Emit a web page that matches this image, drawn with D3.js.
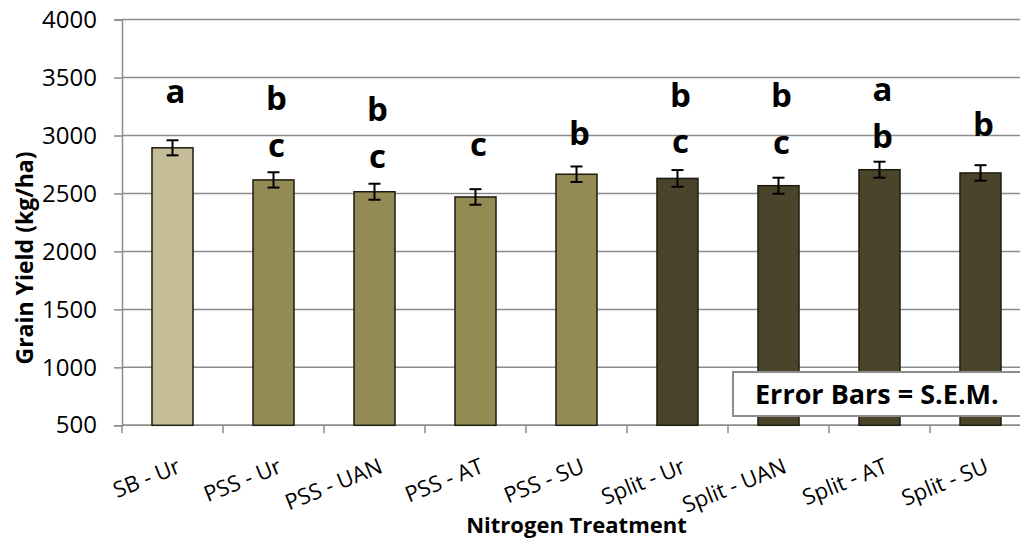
<!DOCTYPE html>
<html lang="en">
<head>
  <meta charset="UTF-8">
  <title>Grain Yield by Nitrogen Treatment</title>
  <script src="https://d3js.org/d3.v7.min.js"></script>
  <style>
    body { margin: 0; background: #fff; }
    svg { display: block; font-family: 'Open Sans', sans-serif; }
    .tick text { fill: #000; }
  </style>
</head>
<body>
  <svg width="1020" height="539"></svg>
  <script>
    const treatments = ["SB - Ur", "PSS - Ur", "PSS - UAN", "PSS - AT", "PSS - SU",
                        "Split - Ur", "Split - UAN", "Split - AT", "Split - SU"];
    const groups = ["SB", "PSS", "PSS", "PSS", "PSS", "Split", "Split", "Split", "Split"];
    const yieldValues = [2894, 2617, 2515, 2470, 2666, 2630, 2567, 2705, 2677];
    const semValues = [65, 66, 69, 67, 67, 72, 69, 69, 67];
    // significance letters, top line first
    const letters = [["a"], ["b", "c"], ["b", "c"], ["c"], ["b"], ["b", "c"], ["b", "c"], ["a", "b"], ["b"]];
    // kg/ha level of the lowest letter's baseline
    const letterLevel = [3278, 2815, 2720, 2824, 2919, 2847, 2841, 2893, 2997];
    const yTicks = [500, 1000, 1500, 2000, 2500, 3000, 3500, 4000];

    const svg = d3.select("svg");
    const plotLeft = 122, plotRight = 1031, plotTop = 19.6, plotBottom = 425.3;

    const x = d3.scaleBand().domain(treatments).range([plotLeft, plotRight]).padding(0);
    const y = d3.scaleLinear().domain([500, 4000]).range([plotBottom, plotTop]);
    const color = d3.scaleOrdinal().domain(["SB", "PSS", "Split"]).range(["#c4bd97", "#948a54", "#4a452a"]);

    const gridColor = "#8c8c8c";

    // gridlines
    svg.append("g")
      .selectAll("line")
      .data(yTicks)
      .join("line")
        .attr("x1", plotLeft).attr("x2", plotRight)
        .attr("y1", d => y(d)).attr("y2", d => y(d))
        .attr("stroke", gridColor).attr("stroke-width", 1.5);

    // y axis
    const yAxis = svg.append("g")
      .attr("transform", `translate(${plotLeft},0)`)
      .call(d3.axisLeft(y).tickValues(yTicks).tickSize(8).tickPadding(17).tickFormat(d3.format("d")));
    yAxis.select(".domain").attr("stroke", gridColor).attr("stroke-width", 1.5);
    yAxis.selectAll(".tick line").attr("stroke", gridColor).attr("stroke-width", 1.5);
    yAxis.selectAll(".tick text").attr("font-size", 24).attr("font-family", "'Open Sans', sans-serif");

    // x axis: ticks between categories
    const xAxis = svg.append("g").attr("transform", `translate(0,${plotBottom})`);
    xAxis.append("line")
      .attr("x1", plotLeft).attr("x2", plotRight)
      .attr("stroke", gridColor).attr("stroke-width", 1.5);
    xAxis.selectAll(".xtick")
      .data(treatments)
      .join("line")
        .attr("class", "xtick")
        .attr("x1", d => x(d)).attr("x2", d => x(d))
        .attr("y1", 0).attr("y2", 8)
        .attr("stroke", gridColor).attr("stroke-width", 1.5);
    xAxis.selectAll(".xlabel")
      .data(treatments)
      .join("text")
        .attr("class", "xlabel")
        .attr("transform", d => `translate(${x(d) + x.bandwidth() / 2 + 3},31) rotate(-22)`)
        .attr("dy", 17)
        .attr("text-anchor", "end")
        .attr("font-size", 22)
        .text(d => d);

    // bars
    const barW = x.bandwidth() * 0.406;
    svg.append("g")
      .selectAll("rect")
      .data(treatments)
      .join("rect")
        .attr("x", d => x(d) + (x.bandwidth() - barW) / 2)
        .attr("width", barW)
        .attr("y", (d, i) => y(yieldValues[i]))
        .attr("height", (d, i) => y(500) - y(yieldValues[i]))
        .attr("fill", (d, i) => color(groups[i]))
        .attr("stroke", "#1e1c10")
        .attr("stroke-width", 1.5);

    // error bars
    const err = svg.append("g").attr("stroke", "#000").attr("stroke-width", 2);
    treatments.forEach((t, i) => {
      const cx = x(t) + x.bandwidth() / 2;
      const hi = y(yieldValues[i] + semValues[i]), lo = y(yieldValues[i] - semValues[i]);
      err.append("line").attr("x1", cx).attr("x2", cx).attr("y1", hi).attr("y2", lo);
      err.append("line").attr("x1", cx - 6).attr("x2", cx + 6).attr("y1", hi).attr("y2", hi);
      err.append("line").attr("x1", cx - 6).attr("x2", cx + 6).attr("y1", lo).attr("y2", lo);
    });

    // significance letters
    const lineGap = 46.5;
    const lg = svg.append("g")
      .attr("font-size", 33).attr("font-weight", "bold").attr("text-anchor", "middle");
    treatments.forEach((t, i) => {
      const n = letters[i].length;
      letters[i].forEach((l, j) => {
        lg.append("text")
          .attr("x", x(t) + x.bandwidth() / 2 + 3)
          .attr("y", y(letterLevel[i]) - (n - 1 - j) * lineGap)
          .text(l);
      });
    });

    // legend box
    svg.append("rect")
      .attr("x", 733).attr("y", 372).attr("width", 310).attr("height", 44)
      .attr("fill", "#fff").attr("stroke", gridColor).attr("stroke-width", 2);
    svg.append("text")
      .attr("x", 755).attr("y", 404)
      .attr("font-size", 27).attr("font-weight", "bold")
      .text("Error Bars = S.E.M.");

    // axis titles
    svg.append("text")
      .attr("transform", `translate(33,258) rotate(-90)`)
      .attr("text-anchor", "middle")
      .attr("font-size", 23).attr("font-weight", "bold")
      .text("Grain Yield (kg/ha)");
    svg.append("text")
      .attr("x", (plotLeft + plotRight) / 2).attr("y", 533)
      .attr("text-anchor", "middle")
      .attr("font-size", 22).attr("font-weight", "bold")
      .text("Nitrogen Treatment");
  </script>
</body>
</html>
